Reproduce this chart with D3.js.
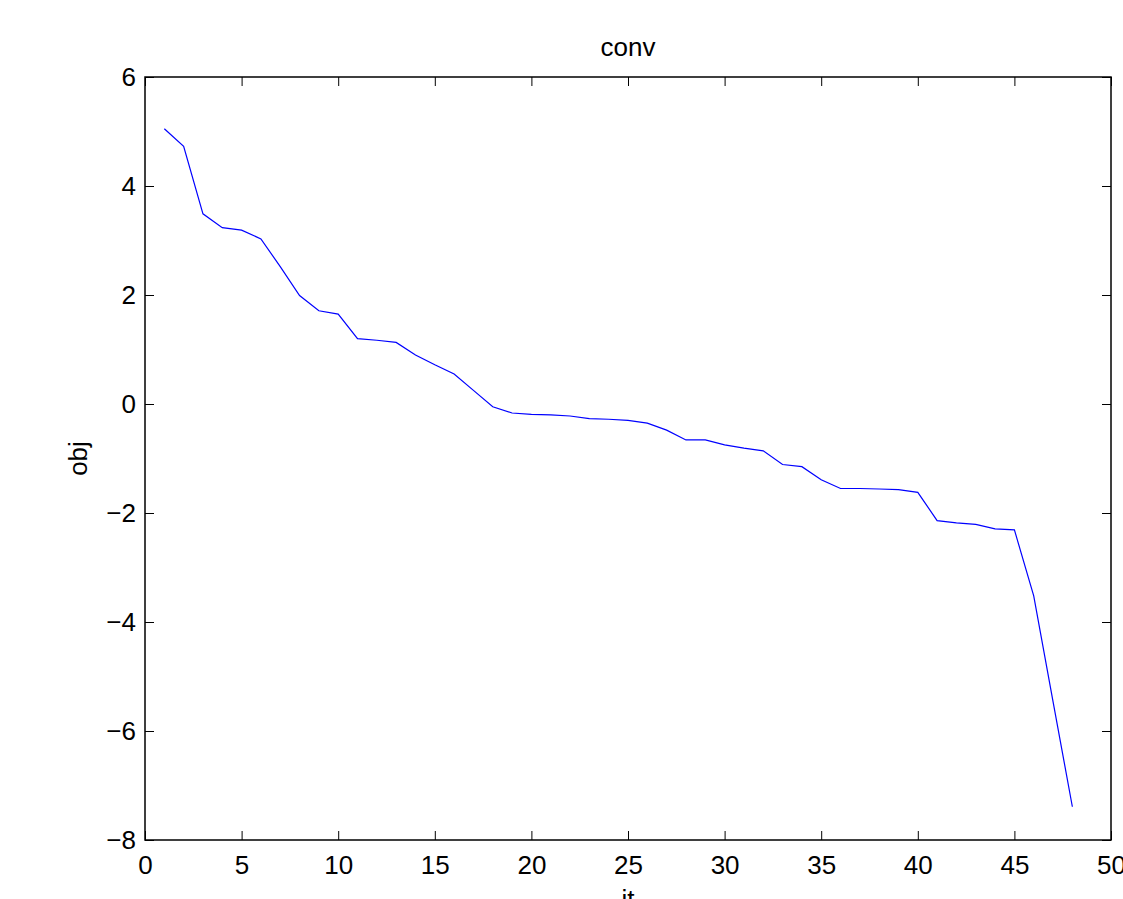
<!DOCTYPE html>
<html>
<head>
<meta charset="utf-8">
<script src="https://cdn.jsdelivr.net/npm/d3@7"></script>
<style>
  body { margin: 0; background: #fff; }
  text { font-family: "Liberation Sans", Arial, Helvetica, sans-serif; }
</style>
</head>
<body>
<div id="chart"></div>
<script>
// Objective value per iteration
var iters = [1, 2, 3, 4, 5, 6, 7, 8, 9, 10, 11, 12, 13, 14, 15, 16, 17, 18, 19, 20, 21, 22, 23, 24,
             25, 26, 27, 28, 29, 30, 31, 32, 33, 34, 35, 36, 37, 38, 39, 40, 41, 42, 43, 44, 45, 46, 47, 48];
var obj = [5.05, 4.73, 3.49, 3.235, 3.19, 3.03, 2.52, 1.99, 1.71, 1.65, 1.20, 1.17, 1.13, 0.90, 0.72, 0.55,
           0.25, -0.05, -0.165, -0.19, -0.20, -0.22, -0.27, -0.28, -0.30, -0.35, -0.48, -0.66, -0.66, -0.75,
           -0.81, -0.86, -1.11, -1.15, -1.39, -1.55, -1.55, -1.56, -1.57, -1.62, -2.14, -2.18, -2.21, -2.29,
           -2.31, -3.52, -5.46, -7.39];
var xTicks = [0, 5, 10, 15, 20, 25, 30, 35, 40, 45, 50];
var yTicks = [-8, -6, -4, -2, 0, 2, 4, 6];

var W = 1123, H = 899;
var margin = { top: 77, right: 12, bottom: 59, left: 145 },
    width = W - margin.left - margin.right,
    height = H - margin.top - margin.bottom;

var svg = d3.select('#chart').append('svg')
    .attr('width', W)
    .attr('height', H);

var g = svg.append('g')
    .attr('transform', 'translate(' + margin.left + ',' + margin.top + ')');

var x = d3.scaleLinear().domain([0, 50]).range([0, width]);
var y = d3.scaleLinear().domain([-8, 6]).range([height, 0]);

var tickLen = 9;
var fontSize = 26;

// ticks on all four sides, pointing inward
function drawAxis(axis, tx, ty, showLabels) {
    var a = g.append('g')
        .attr('transform', 'translate(' + tx + ',' + ty + ')')
        .call(axis);
    a.select('.domain').remove();
    a.selectAll('line').attr('stroke', '#000').attr('stroke-width', 1);
    if (!showLabels) a.selectAll('text').remove();
    return a;
}

var xb = drawAxis(d3.axisBottom(x).tickValues(xTicks).tickSizeInner(-tickLen).tickSizeOuter(0).tickPadding(16), 0, height, true);
xb.selectAll('text').attr('font-size', fontSize).attr('fill', '#000');
drawAxis(d3.axisTop(x).tickValues(xTicks).tickSizeInner(-tickLen).tickSizeOuter(0), 0, 0, false);

var yl = drawAxis(d3.axisLeft(y).tickValues(yTicks).tickSizeInner(-tickLen).tickSizeOuter(0).tickPadding(9)
    .tickFormat(function (d) { return d < 0 ? '\u2212' + Math.abs(d) : d; }), 0, 0, true);
yl.selectAll('text').attr('font-size', fontSize).attr('fill', '#000');
drawAxis(d3.axisRight(y).tickValues(yTicks).tickSizeInner(-tickLen).tickSizeOuter(0), width, 0, false);

// axes box
g.append('rect')
    .attr('width', width)
    .attr('height', height)
    .attr('fill', 'none')
    .attr('stroke', '#000')
    .attr('stroke-width', 1.5);

// data line
var line = d3.line()
    .x(function (d, i) { return x(iters[i]); })
    .y(function (d) { return y(d); });

g.append('path')
    .datum(obj)
    .attr('d', line)
    .attr('fill', 'none')
    .attr('stroke', '#0000ff')
    .attr('stroke-width', 1.2);

// title and axis labels
svg.append('text')
    .attr('x', margin.left + width / 2)
    .attr('y', 56)
    .attr('text-anchor', 'middle')
    .attr('font-size', fontSize)
    .text('conv');

svg.append('text')
    .attr('x', margin.left + width / 2)
    .attr('y', 908)
    .attr('text-anchor', 'middle')
    .attr('font-size', fontSize)
    .text('it');

svg.append('text')
    .attr('transform', 'translate(87,' + (margin.top + height / 2) + ') rotate(-90)')
    .attr('text-anchor', 'middle')
    .attr('font-size', fontSize)
    .text('obj');
</script>
</body>
</html>
